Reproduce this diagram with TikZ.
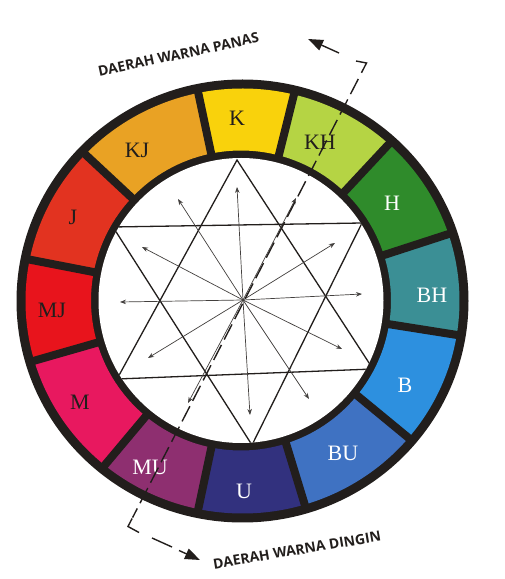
\documentclass[tikz,border=0pt]{standalone}
\usepackage{fontspec}
\setmainfont{Liberation Serif}
\newfontfamily\capfont{Open Sans}
\usetikzlibrary{arrows.meta,calc}
\definecolor{ink}{HTML}{221E1C}
\definecolor{cK}{HTML}{F9D20C}
\definecolor{cKH}{HTML}{B5D444}
\definecolor{cH}{HTML}{2F8B2B}
\definecolor{cBH}{HTML}{3B8F95}
\definecolor{cB}{HTML}{2D90DF}
\definecolor{cBU}{HTML}{3F72C2}
\definecolor{cU}{HTML}{32317E}
\definecolor{cMU}{HTML}{8E2F70}
\definecolor{cM}{HTML}{E8185F}
\definecolor{cMJ}{HTML}{E8141C}
\definecolor{cJ}{HTML}{E23320}
\definecolor{cKJ}{HTML}{E9A224}
\begin{document}
\begin{tikzpicture}[x=1pt,y=1pt,
  seglabel/.style={font=\fontsize{22}{22}\selectfont, inner sep=0pt},
  darklabel/.style={seglabel, text=ink},
  lightlabel/.style={seglabel, text=white},
  divider/.style={draw=ink, line width=8pt},
  starline/.style={draw=ink, line width=1.3pt},
  ray/.style={draw=ink!85, line width=0.7pt, -{Stealth[length=6pt,width=4.5pt]}},
  guide/.style={draw=ink, line width=1.4pt},
  guidehead/.style={guide, -{Triangle[length=15pt,width=11pt]}},
  zonelabel/.style={font={\capfont\bfseries\fontsize{14}{14}\selectfont}, text=ink, inner sep=0pt}
]
\useasboundingbox[fill=white] (0,0) rectangle (505,579);
\coordinate (C) at (242.5,278);
\coordinate (W) at (241,278.5);
% ring
\fill[ink] (C) ellipse [x radius=226pt, y radius=221.5pt];
\foreach \a/\b/\c in {-9/18/cBH, 18/47/cH, 47/76/cKH, 76/102/cK, 102/137/cKJ, 137/169/cJ, 169/196/cMJ, 196/230/cM, 230/258/cMU, 258/287/cU, 287/320.5/cBU, 320.5/351/cB}
  \fill[\c] ($(C)+(\a:217pt and 212.5pt)$) arc[start angle=\a, end angle=\b, x radius=217pt, y radius=212.5pt]
     -- ($(W)+(\b:150pt)$) arc[start angle=\b, end angle=\a, radius=150pt] -- cycle;
\foreach \a in {-9, 18, 47, 76, 102, 137, 169, 196, 230, 258, 287, 320.5}
  \draw[divider] ($(C)+(\a:145pt)$) -- ($(C)+(\a:219pt)$);
\fill[white] (W) circle[radius=142.5pt];
% star
\coordinate (A1) at (237,419);
\coordinate (A2) at (117,200);
\coordinate (A3) at (373,210);
\coordinate (B1) at (113,352);
\coordinate (B2) at (362,356);
\coordinate (B3) at (252,134);
\begin{scope}
  \clip (W) circle[radius=142.5pt];
  \draw[starline] (A1) -- (A2) -- (A3) -- cycle;
  \draw[starline] (B1) -- (B2) -- (B3) -- cycle;
\end{scope}
% rays
\coordinate (S) at (243,279);
\coordinate (r90) at (237,392);
\coordinate (r60) at (296,381);
\coordinate (r30) at (335,336);
\coordinate (r0) at (362,285);
\coordinate (rm30) at (342,230);
\coordinate (rm60) at (309,180);
\coordinate (rm90) at (250,164);
\coordinate (rm120) at (188,176);
\coordinate (rm150) at (148,221);
\coordinate (r180) at (120,277);
\coordinate (r150) at (142,332);
\coordinate (r120) at (178,380);
\foreach \e in {r90,r60,r30,r0,rm30,rm60,rm90,rm120,rm150,r180,r150,r120}
  \draw[ray] (S) -- (\e);
% segment labels
\node[darklabel]  (lK)  at (237,461) {K};
\node[darklabel]  (lKH) at (320,437) {KH};
\node[lightlabel] (lH)  at (392,376) {H};
\node[lightlabel] (lBH) at (432,284) {BH};
\node[lightlabel] (lB)  at (405,194) {B};
\node[lightlabel] (lBU) at (343,126) {BU};
\node[lightlabel] (lU)  at (244,88)  {U};
\node[lightlabel] (lMU) at (150,112) {MU};
\node[darklabel]  (lM)  at (80,177)  {M};
\node[darklabel]  (lMJ) at (52,269)  {MJ};
\node[darklabel]  (lJ)  at (73,362)  {J};
\node[darklabel]  (lKJ) at (137,429) {KJ};
% guide line
\coordinate (Tc) at (366.5,516);
\coordinate (Bc) at (128,52.5);
\coordinate (Th) at (356,518);
\coordinate (Bl) at (139,46.5);
\draw[guide] (Th) -- (Tc) -- ($(Tc)!11pt!(Bc)$);
\draw[guide, dash pattern=on 17pt off 6pt] ($(Tc)!18pt!(Bc)$) -- ($(Bc)!10pt!(Tc)$);
\draw[guide] ($(Bc)!9pt!(Tc)$) -- (Bc) -- (Bl);
\coordinate (ta) at (339,526);
\coordinate (tt) at (308,540);
\draw[guidehead] (ta) -- (tt);
\coordinate (bd1) at (152,41);
\coordinate (bd2) at (172,32);
\draw[guide] (bd1) -- (bd2);
\coordinate (ba) at (179,28.5);
\coordinate (bt) at (200,19);
\draw[guidehead] (ba) -- (bt);
% zone labels
\node[zonelabel, rotate=12] (hot) at (178.5,524.5) {DAERAH WARNA PANAS};
\node[zonelabel, rotate=9.6] (cold) at (297,29) {DAERAH WARNA DINGIN};
\end{tikzpicture}
\end{document}
